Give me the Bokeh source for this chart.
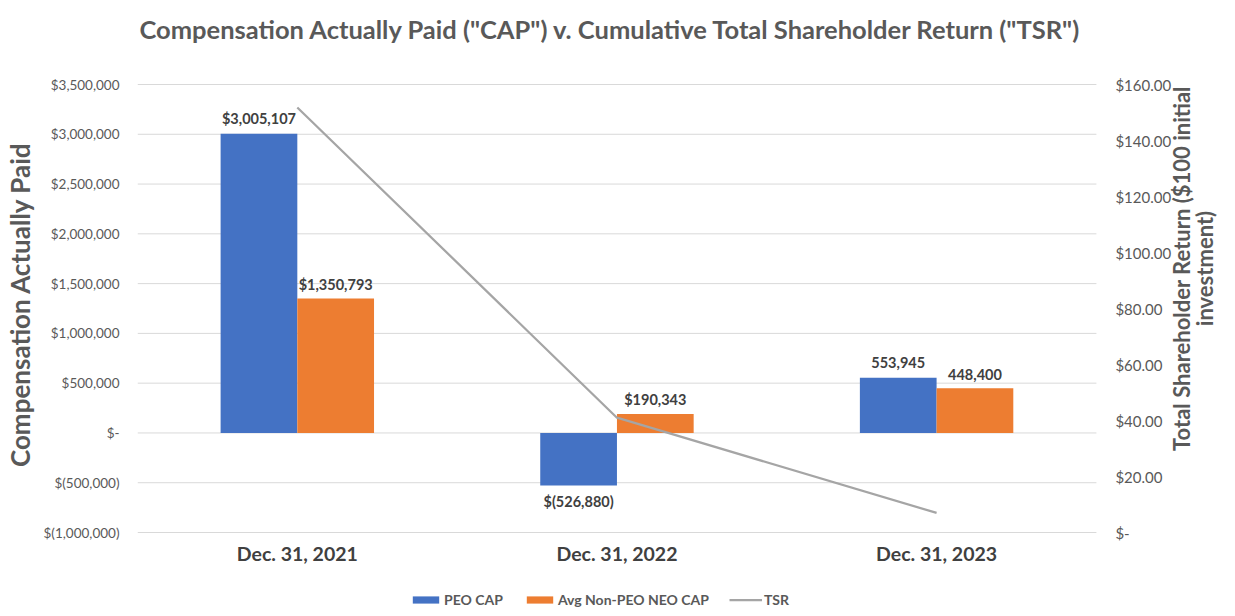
import math
from bokeh.plotting import figure
from bokeh.models import (Range1d, FixedTicker, Legend, LegendItem,
                          ColumnDataSource, LabelSet, Label)
from bokeh.embed import file_html
from bokeh.resources import INLINE
from bokeh.core.properties import value

# ---------------- data ----------------
categories = ["Dec. 31, 2021", "Dec. 31, 2022", "Dec. 31, 2023"]
peo_cap = [3005107, -526880, 553945]
neo_cap = [1350793, 190343, 448400]
tsr = [151.8, 41.0, 7.0]
peo_labels = ["$3,005,107", "$(526,880)", "553,945"]
neo_labels = ["$1,350,793", "$190,343", "448,400"]
left_ticks = [-1000000, -500000, 0, 500000, 1000000, 1500000, 2000000, 2500000, 3000000, 3500000]
left_tick_labels = ["$(1,000,000)", "$(500,000)", "$-", "$500,000", "$1,000,000",
                    "$1,500,000", "$2,000,000", "$2,500,000", "$3,000,000", "$3,500,000"]
right_ticks = [0, 20, 40, 60, 80, 100, 120, 140, 160]
right_tick_labels = ["$-", "$20.00", "$40.00", "$60.00", "$80.00", "$100.00",
                     "$120.00", "$140.00", "$160.00"]
title_text = 'Compensation Actually Paid ("CAP") v. Cumulative Total Shareholder Return ("TSR")'
left_title = "Compensation Actually Paid"
right_title = "Total Shareholder Return ($100 initial\ninvestment)"

# ---------------- style / layout ----------------
FONT = "Lato"
GREY = "#595959"
DARK = "#404040"
BLUE = "#4472C4"
ORANGE = "#ED7D31"
LINEC = "#A5A5A5"
GRIDC = "#D9D9D9"

W, H = 1219, 608
LEFT = 129                      # left axis panel width
PLOT_TOP, PLOT_BOT = 84, 532    # pixel rows of the value-axis extremes
PLOT_W = 966                    # pixel width of the category area
YMIN, YMAX = -1000000, 3500000
TMIN, TMAX = 0, 160

n = len(categories)
centers = [i + 0.5 for i in range(n)]
bw = 0.24

frame_w = W - LEFT
xpx = n / PLOT_W                               # data units per pixel (x)
ypx = (YMAX - YMIN) / (PLOT_BOT - PLOT_TOP)    # data units per pixel (left y)
tpx = (TMAX - TMIN) / (PLOT_BOT - PLOT_TOP)    # data units per pixel (right y)

x_range = Range1d(0, frame_w * xpx)
y_range = Range1d(YMIN - (H - PLOT_BOT) * ypx, YMAX + PLOT_TOP * ypx)

p = figure(width=W, height=H, x_range=x_range, y_range=y_range,
           x_axis_location=None, output_backend="svg", toolbar_location=None,
           min_border_left=LEFT, min_border_right=0, min_border_top=0, min_border_bottom=0)
p.outline_line_color = None
p.background_fill_color = "white"
p.border_fill_color = "white"
p.grid.visible = False

p.extra_y_ranges = {"tsr": Range1d(TMIN - (H - PLOT_BOT) * tpx, TMAX + PLOT_TOP * tpx)}

# horizontal gridlines at the value ticks, across the category area only
p.segment(x0=[0] * len(left_ticks), x1=[n] * len(left_ticks), y0=left_ticks, y1=left_ticks,
          line_color=GRIDC, line_width=1)

# left axis
ya = p.yaxis[0]
ya.ticker = FixedTicker(ticks=left_ticks)
ya.major_label_overrides = {t: l for t, l in zip(left_ticks, left_tick_labels)}
ya.axis_line_color = None
ya.major_tick_line_color = None
ya.minor_tick_line_color = None
ya.major_tick_out = 0
ya.major_label_text_font = FONT
ya.major_label_text_font_size = "13.5px"
ya.major_label_text_color = GREY
ya.major_label_standoff = 18
ya.axis_label = left_title
ya.axis_label_text_font = FONT
ya.axis_label_text_font_size = "26px"
ya.axis_label_text_font_style = "bold"
ya.axis_label_text_color = GREY
ya.axis_label_text_line_height = 1.0
ya.axis_label_standoff = 5

# right (TSR) axis tick labels
p.text(x=[n] * len(right_ticks), y=right_ticks, text=right_tick_labels, y_range_name="tsr",
       x_offset=19, text_align="left", text_baseline="middle",
       text_font=value(FONT), text_font_size=value("15px"), text_color=GREY)

# right axis title, reading bottom to top
p.add_layout(Label(x=n + 97 * xpx, y=YMAX - (268 - PLOT_TOP) * ypx, text=right_title,
                   angle=math.pi / 2, text_align="center", text_baseline="middle",
                   text_font=FONT, text_font_size="22px", text_font_style="bold",
                   text_color=GREY, text_line_height=0.85))

# chart title
p.add_layout(Label(x=(614 - 137) * xpx, y=YMAX + (PLOT_TOP - 28) * ypx, text=title_text,
                   text_align="center", text_baseline="middle",
                   text_font=FONT, text_font_size="25.5px", text_font_style="bold",
                   text_color=GREY))

# category labels
p.text(x=centers, y=[YMIN - 21 * ypx] * n, text=categories,
       text_align="center", text_baseline="middle",
       text_font=value(FONT), text_font_size=value("19.5px"), text_font_style="bold",
       text_color=DARK)

# bars
peo_src = ColumnDataSource(dict(x=[c - bw / 2 for c in centers], top=peo_cap, text=peo_labels,
                                off=[15 if v >= 0 else -16 for v in peo_cap]))
neo_src = ColumnDataSource(dict(x=[c + bw / 2 for c in centers], top=neo_cap, text=neo_labels,
                                off=[14 if v >= 0 else -16 for v in neo_cap]))
r_peo = p.vbar(x="x", top="top", bottom=0, width=bw, source=peo_src, fill_color=BLUE, line_color=None)
r_neo = p.vbar(x="x", top="top", bottom=0, width=bw, source=neo_src, fill_color=ORANGE, line_color=None)

r_tsr = p.line(x=centers, y=tsr, y_range_name="tsr", line_color=LINEC, line_width=2.25)

for src in (peo_src, neo_src):
    ls = LabelSet(x="x", y="top", text="text", y_offset="off", source=src,
                  text_align="center", text_baseline="middle",
                  text_font=value(FONT), text_font_size="14.5px", text_font_style="bold",
                  text_color=DARK)
    p.add_layout(ls)

legend = Legend(items=[LegendItem(label="PEO CAP", renderers=[r_peo]),
                       LegendItem(label="Avg Non-PEO NEO CAP", renderers=[r_neo]),
                       LegendItem(label="TSR", renderers=[r_tsr])],
                orientation="horizontal", location=(272, 0),
                glyph_width=33, glyph_height=9, label_standoff=2, spacing=20,
                label_height=14, padding=0, margin=0, border_line_color=None,
                background_fill_alpha=0,
                label_text_font=FONT, label_text_font_size="14px", label_text_font_style="bold",
                label_text_color=GREY)
p.add_layout(legend)

open("out.html", "w").write(file_html(p, INLINE))
